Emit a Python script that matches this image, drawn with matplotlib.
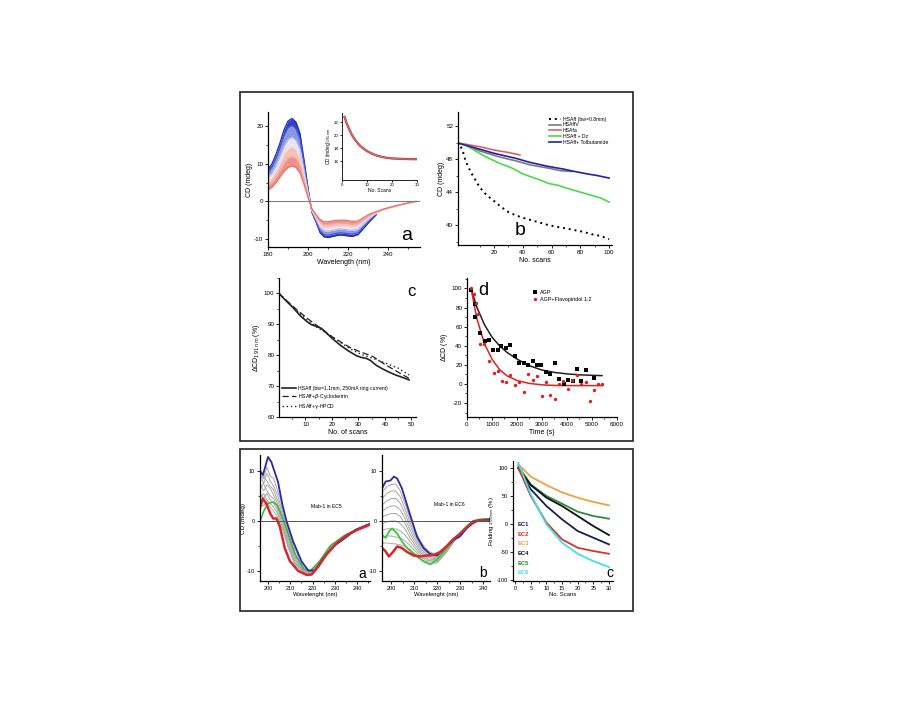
import numpy as np
from matplotlib import pyplot as plt
from matplotlib.patches import Rectangle
from matplotlib.ticker import MultipleLocator, FixedLocator

plt.rcParams['font.family'] = ['Liberation Sans', 'DejaVu Sans']
plt.rcParams['axes.unicode_minus'] = False

# ---------------- top box, panel a: CD spectra, first scan (blue) -> last scan (red)
wl_a = [180, 182, 184, 186, 188, 190, 192, 194, 196, 198, 200, 202, 204, 206, 208,
        210, 213, 216, 219, 222, 225, 228, 231, 234, 238, 242, 246, 250, 254]
nan = np.nan
cd_scan_first = [8.5, 10.0, 12.5, 15.5, 19.0, 21.3, 22.0, 21.0, 18.0, 11.0, 3.5, -3.0, -5.5, -8.3, -9.4,
                 -9.6, -9.2, -8.9, -9.1, -9.3, -8.8, -7.0, -5.2, -3.6, nan, nan, nan, nan, nan]
cd_scan_early = [7.7, 9.1, 11.4, 14.2, 17.4, 19.5, 20.1, 19.2, 16.4, 10.0, 3.1, -2.9, -5.2, -7.8, -8.8,
                 -9.0, -8.6, -8.3, -8.5, -8.7, -8.3, -6.6, -4.9, -3.5, nan, nan, nan, nan, nan]
cd_scan_mid1 = [6.3, 7.5, 9.5, 11.9, 14.6, 16.4, 17.0, 16.2, 13.8, 8.4, 2.5, -2.6, -4.7, -6.9, -7.8,
                -7.9, -7.6, -7.3, -7.5, -7.7, -7.4, -5.9, -4.4, -3.2, nan, nan, nan, nan, nan]
cd_scan_mid2 = [5.2, 6.3, 8.0, 10.1, 12.4, 13.9, 14.4, 13.8, 11.7, 7.1, 2.0, -2.4, -4.3, -6.2, -7.0,
                -7.1, -6.7, -6.6, -6.6, -6.9, -6.6, -5.3, -4.1, -3.1, -2.2, -1.6, -1.0, -0.5, 0.0]
cd_scan_late = [4.1, 5.0, 6.5, 8.3, 10.2, 11.5, 11.9, 11.4, 9.6, 5.8, 1.5, -2.2, -3.9, -5.5, -6.2,
                -6.2, -5.9, -5.8, -5.8, -6.1, -5.9, -4.8, -3.7, -2.9, -2.1, -1.5, -0.95, -0.45, 0.0]
cd_scan_last = [3.0, 3.8, 5.0, 6.5, 8.0, 9.0, 9.4, 9.0, 7.5, 4.5, 1.0, -2.0, -3.5, -4.8, -5.4,
                -5.4, -5.1, -5.0, -5.0, -5.3, -5.2, -4.2, -3.3, -2.7, -2.0, -1.4, -0.9, -0.4, 0.0]

# inset: CD at 191 nm against scan number
inset_scans = [1, 2, 3, 4, 5, 6, 7, 8, 10, 12, 14, 16, 18, 20, 23, 26, 30]
inset_cd191 = [22.8, 21.7, 20.8, 20.0, 19.4, 18.9, 18.45, 18.1, 17.55, 17.15, 16.85, 16.65,
               16.5, 16.42, 16.36, 16.32, 16.3]

# ---------------- panel b: CD against number of scans
b_dotted_x = [-3, -1, 0, 2, 4, 7, 10, 14, 18, 21, 25, 30, 35, 40, 46, 52, 58, 64, 70, 76, 82, 88, 94, 100]
b_dotted_y = [49.5, 48.6, 47.9, 47.1, 46.4, 45.5, 44.6, 43.8, 43.2, 42.8, 42.2, 41.6, 41.2, 40.9,
              40.6, 40.3, 40.0, 39.8, 39.6, 39.4, 39.2, 38.9, 38.7, 38.3]
b_ffv_x = [-4, 0, 10, 23, 30, 35, 45, 58, 66, 74]
b_ffv_y = [49.9, 49.7, 49.0, 48.3, 48.0, 47.8, 47.3, 46.9, 46.6, 46.5]
b_fa_x = [-4, 0, 10, 20, 30, 38]
b_fa_y = [49.9, 49.8, 49.5, 49.1, 48.8, 48.5]
b_dz_x = [-4, 0, 5, 10, 14, 20, 25, 30, 35, 40, 45, 50, 58, 65, 70, 76, 82, 88, 94, 100]
b_dz_y = [49.9, 49.7, 49.2, 48.7, 48.3, 47.8, 47.4, 47.1, 46.7, 46.2, 45.9, 45.6, 45.05, 44.8,
          44.5, 44.2, 43.9, 43.6, 43.3, 42.8]
b_tol_x = [-4, 0, 10, 20, 30, 35, 45, 58, 68, 76, 85, 92, 100]
b_tol_y = [49.9, 49.7, 49.2, 48.7, 48.3, 48.1, 47.6, 47.1, 46.8, 46.5, 46.2, 46.0, 45.7]

# ---------------- panel c: relative CD at 191 nm
c_solid_x = [0, 2, 5.4, 8, 10.4, 12, 14.1, 16, 17.9, 20, 22.9, 26, 29.1, 31, 32.9, 34.5, 36.6,
             39, 41.6, 44, 47, 49.1]
c_solid_y = [100, 98.2, 95.3, 92.8, 91, 90, 89.3, 88.7, 87.2, 85.5, 83.4, 81.5, 79.9, 79.3, 79.0,
             78.3, 76.8, 75.6, 74.5, 73.6, 72.7, 72.0]
c_dash_x = [0, 5, 10.4, 15, 20, 22.9, 27, 31, 35.4, 40, 45, 49.1]
c_dash_y = [100, 96, 92.1, 89.2, 86.0, 84.5, 82.4, 81.0, 79.6, 77.0, 74.5, 72.5]
c_dot_x = [0, 5, 10.4, 15, 20, 22.9, 27, 31, 35.4, 40, 45, 49.1]
c_dot_y = [100, 95.8, 91.5, 88.7, 86.0, 84.3, 82.0, 80.3, 79.0, 77.5, 75.8, 73.6]

# ---------------- panel d: AGP time course
agp_t = [170, 305, 332, 505, 704, 890, 1036, 1222, 1368, 1554, 1726, 1926, 2098, 2284, 2457, 2630,
         2802, 2961, 3147, 3320, 3506, 3679, 3865, 4051, 4223, 4396, 4569, 4741, 5073]
agp_cd = [98, 70, 84, 53.5, 45, 45.5, 36, 36, 39.5, 37.5, 40.3, 28.9, 21.9, 21.9, 19.5, 23.7,
          20.2, 20.2, 12.5, 10.4, 21.9, 5.5, 0.3, 4.5, 3.4, 16, 2.7, 14.3, 6.2]
flavo_t = [159, 266, 359, 425, 531, 664, 863, 1062, 1222, 1394, 1567, 1726, 1926, 2098, 2284, 2457,
           2630, 2802, 2988, 3160, 3333, 3506, 3679, 3852, 4037, 4210, 4383, 4555, 4741, 4914,
           5086, 5259, 5419]
flavo_cd = [101, 94, 85, 72.8, 41.3, 41.3, 23.7, 11.5, 14, 3.4, 2, 9.7, -0.8, 2, -8.5, 10.8, 3.8,
            8.7, -13, 2, -11.2, -15.4, 0, 2.7, -5, 4.5, 9.7, 0, 2, -17.5, -6, 0, 0]
agp_fit_t = [160, 400, 700, 1000, 1300, 1600, 2000, 2500, 3000, 3500, 4000, 4500, 5000, 5400]
agp_fit_cd = [100, 80, 62, 49, 40, 33, 26, 19, 14.5, 12, 10.5, 9.5, 9, 8.7]
flavo_fit_t = [160, 400, 700, 1000, 1300, 1600, 2000, 2500, 3000, 3500, 4000, 4500, 5000, 5420]
flavo_fit_cd = [100, 68, 42, 26, 15, 8.5, 3.5, 0.5, -1, -1.6, -1.8, -1.8, -1.8, -1.8]

# ---------------- bottom box, panel a: Mab-1 in EC5
wl_ec5 = [196.5, 198, 199.5, 201, 202.5, 204, 205.5, 207, 209, 212, 216, 219, 223, 228, 234, 240, 246]
ec5_gray = [
    [10.5, 8.5, 10.8, 9.0, 8.5, 6.5, 4.5, 2.0, -1.5, -5.5, -9.3, -9.9, -8.0, -4.8, -3.0, -1.6, -0.6],
    [9.5, 7.5, 9.5, 8.0, 7.0, 5.5, 3.5, 1.2, -2.2, -6.2, -9.6, -10.0, -8.2, -5.0, -3.0, -1.6, -0.6],
    [8.5, 9.0, 8.0, 7.0, 6.2, 4.5, 2.8, 0.5, -2.8, -6.8, -9.8, -10.1, -8.3, -5.1, -3.1, -1.7, -0.6],
    [7.5, 6.0, 7.2, 6.5, 5.2, 3.8, 2.0, -0.2, -3.4, -7.2, -10.0, -10.2, -8.4, -5.2, -3.1, -1.7, -0.6],
    [6.5, 7.5, 6.0, 5.0, 4.5, 3.0, 1.2, -0.8, -3.9, -7.6, -10.1, -10.3, -8.5, -5.3, -3.2, -1.7, -0.7],
    [5.5, 4.5, 5.5, 4.2, 3.6, 2.4, 0.6, -1.3, -4.4, -8.0, -10.2, -10.4, -8.6, -5.4, -3.2, -1.8, -0.7],
    [4.5, 5.5, 4.2, 3.5, 2.8, 1.8, 0.0, -1.8, -4.9, -8.3, -10.3, -10.5, -8.7, -5.5, -3.3, -1.8, -0.7],
    [3.5, 3.0, 3.8, 2.8, 2.0, 1.0, -0.6, -2.3, -5.3, -8.6, -10.4, -10.6, -8.8, -5.6, -3.3, -1.8, -0.7],
]
ec5_blue_x = [196.5, 197.7, 200, 201.5, 204.5, 206.5, 208.3, 211.3, 215.1, 218.1, 221.1, 224.9,
              230.2, 232.5, 235.5, 239.2, 243.8, 246]
ec5_blue_y = [9.9, 9.2, 12.8, 11.8, 7.8, 3.2, 0, -4.1, -8.1, -9.9, -9.9, -7.4, -4.8, -4.1, -3.1,
              -1.8, -0.9, -0.5]
ec5_red_x = [196.5, 197.7, 199.2, 201, 202.3, 203.8, 205.3, 207.5, 209.8, 213.6, 217.4, 219.6,
             222.6, 226.4, 230.9, 235.5, 240, 246]
ec5_red_y = [2.8, 4.5, 3.5, 1.5, 0.5, 0.5, -1.1, -5.4, -8, -10, -10.8, -10.7, -9.1, -6.6, -4.4,
             -2.8, -1.8, -0.7]
ec5_green_x = [196.5, 198, 200, 202.3, 204.1, 206, 208.3, 212, 216, 219, 223, 228, 234, 240, 246]
ec5_green_y = [0, 1.9, 3.5, 3.8, 3.2, 1.2, -1.5, -6.5, -9.6, -10.0, -8.2, -5.0, -3.0, -1.6, -0.6]

# ---------------- bottom box, panel b: Mab-1 in EC6
wl_ec6 = [196.1, 198, 200, 202, 204, 206, 208, 210, 213, 216, 220, 224, 228, 233, 238, 243]
ec6_gray = [
    [5.8, 6.8, 7.3, 7.4, 6.0, 3.5, 0.8, -1.5, -4.3, -6.0, -6.8, -5.6, -3.6, -1.3, 0.1, 0.3],
    [4.5, 5.5, 6.0, 6.0, 4.8, 2.5, 0.0, -2.2, -4.8, -6.4, -7.0, -5.7, -3.6, -1.3, 0.1, 0.3],
    [3.2, 4.0, 4.5, 4.5, 3.5, 1.5, -0.8, -2.8, -5.2, -6.7, -7.2, -5.8, -3.6, -1.3, 0.1, 0.3],
    [2.0, 2.6, 3.0, 3.0, 2.2, 0.5, -1.6, -3.4, -5.6, -7.0, -7.4, -5.9, -3.6, -1.3, 0.1, 0.3],
    [0.8, 1.2, 1.5, 1.5, 0.9, -0.5, -2.4, -4.0, -6.0, -7.3, -7.6, -6.0, -3.6, -1.3, 0.1, 0.3],
    [-0.5, -0.2, 0.0, 0.0, -0.5, -1.6, -3.2, -4.6, -6.4, -7.6, -7.8, -6.1, -3.6, -1.3, 0.1, 0.3],
    [-1.8, -1.6, -1.5, -1.6, -2.0, -2.8, -4.0, -5.2, -6.8, -7.9, -8.0, -6.2, -3.6, -1.3, 0.1, 0.3],
    [-3.2, -3.0, -3.0, -3.2, -3.4, -4.0, -4.8, -5.8, -7.2, -8.2, -8.2, -6.2, -3.6, -1.3, 0.1, 0.3],
    [-4.4, -4.4, -4.5, -4.6, -4.8, -5.0, -5.6, -6.4, -7.6, -8.5, -8.4, -6.3, -3.6, -1.3, 0.1, 0.3],
]
ec6_blue_x = [196.1, 197.6, 199.7, 201.2, 202.6, 204.7, 206.9, 209.1, 211.2, 214.1, 217, 219.9,
              222.7, 227.1, 229.9, 232.8, 235.7, 238.6, 242.9]
ec6_blue_y = [6.6, 7.9, 8.1, 8.9, 8.5, 6.5, 3.2, 0, -3.1, -5.4, -6.6, -6.9, -5.7, -3.8, -3.1,
              -1.5, -0.3, 0.2, 0.3]
ec6_red_x = [196.1, 197.6, 199, 200.4, 202.6, 204.7, 206.9, 209.8, 212.7, 215.5, 218.4, 221.3,
             224.2, 227.1, 229.9, 232.8, 235.7, 238.6, 242.9]
ec6_red_y = [-5.4, -6.1, -7.1, -6.4, -5.1, -5.4, -6.2, -6.9, -7.1, -6.9, -6.8, -6.2, -5, -3.6,
             -2.6, -1.3, -0.1, 0.2, 0]
ec6_green_x = [196.1, 197.6, 199, 200.4, 202.6, 204.7, 206.9, 209.8, 214.1, 217, 219.9, 224.2,
               228.5, 232.8, 235.7, 240, 242.9]
ec6_green_y = [-2.8, -3.4, -2.1, -1.5, -2.5, -4.1, -5.4, -6.6, -8.1, -8.7, -7.7, -5.4, -3.1,
               -1.1, 0, 0.4, 0.4]

# ---------------- bottom box, panel c: folding against scans per buffer
fold_scans = [1, 5, 10, 15, 20, 25, 30]
fold_ec1 = [100, 62.5, 32.7, 8.9, -11.9, -23.8, -35.7]
fold_ec2 = [101, 50.6, 3, -26.8, -41.7, -47.6, -52.4]
fold_ec3 = [107, 85, 70, 57, 47.5, 40, 34]
fold_ec4 = [100, 70, 47.6, 32.7, 14.9, -3, -19]
fold_ec5 = [104, 71, 50.6, 36.9, 22.6, 14.9, 10.1]
fold_ec6 = [110, 53.6, 0, -32.7, -52.4, -65.5, -76.2]
ec_names = ['EC1', 'EC2', 'EC3', 'EC4', 'EC5', 'EC6']
ec_colors = ['#1c1c5a', '#d93030', '#f0a040', '#111111', '#2e8b3e', '#40e0e8']


def px_axes(fig, x0, y0, x1, y1):
    # axes rectangle from pixel corners of the 900x704 picture
    return fig.add_axes([x0 / 900, 1 - y1 / 704, (x1 - x0) / 900, (y1 - y0) / 704])


def origin_style(ax, fs=4.5):
    for side in ['top', 'right']:
        ax.spines[side].set_visible(False)
    for side in ['left', 'bottom']:
        ax.spines[side].set_linewidth(0.9)
    ax.tick_params(which='major', direction='out', length=2.2, width=0.6, labelsize=fs, pad=1.2)
    ax.tick_params(which='minor', direction='out', length=1.2, width=0.5)


fig = plt.figure(figsize=(9, 7.04), dpi=100)

# frames round the two figure blocks
fig.add_artist(Rectangle((240 / 900, 1 - 441 / 704), 393 / 900, 349 / 704, transform=fig.transFigure,
                         fill=False, lw=1.2, ec='#222222'))
fig.add_artist(Rectangle((240 / 900, 1 - 611 / 704), 393 / 900, 162 / 704, transform=fig.transFigure,
                         fill=False, lw=1.2, ec='#222222'))

# ---- panel a
ax = px_axes(fig, 268, 112, 420, 247)
spectra = [cd_scan_first, cd_scan_early, cd_scan_mid1, cd_scan_mid2, cd_scan_late, cd_scan_last]
line_colors = ['#1f2fb8', '#4a5ad8', '#b4bcee', '#f6d6d4', '#f0aaa6', '#e8706a']
band_colors = ['#3343c8', '#8a98e4', '#ebe6f2', '#f4c0bc', '#ee928c']
for i in range(len(spectra) - 1):
    ax.fill_between(wl_a, spectra[i], spectra[i + 1], color=band_colors[i], lw=0)
for spec, col in zip(spectra, line_colors):
    ax.plot(wl_a, spec, color=col, lw=0.9)
ax.axhline(0, color='#808080', lw=0.8)
ax.set_xlim(180, 256)
ax.set_ylim(-12.1, 23.7)
ax.xaxis.set_major_locator(MultipleLocator(20))
ax.xaxis.set_minor_locator(MultipleLocator(10))
ax.yaxis.set_major_locator(MultipleLocator(10))
ax.yaxis.set_minor_locator(MultipleLocator(5))
origin_style(ax)
ax.set_xlabel('Wavelength (nm)', fontsize=5, labelpad=1.5)
ax.set_ylabel('CD (mdeg)', fontsize=5, labelpad=1)
ax.text(249.5, -9.1, 'a', fontsize=14, ha='center', va='center')

# inset of panel a
axi = px_axes(fig, 342, 113, 417, 180)
axi.plot(inset_scans, inset_cd191, color='#8a3030', lw=1.6)
axi.plot(inset_scans, inset_cd191, color='#e86c6c', lw=0.9)
axi.set_xlim(0, 30)
axi.set_ylim(13.1, 23.4)
axi.set_xticks([0, 10, 20, 30])
axi.set_yticks([16, 18, 20, 22])
origin_style(axi, fs=3.2)
for side in ['left', 'bottom']:
    axi.spines[side].set_linewidth(0.6)
axi.tick_params(which='major', length=1.5, pad=0.8)
axi.set_xlabel('No. Scans', fontsize=3.6, labelpad=0.8)
axi.set_ylabel(r'CD (mdeg)$_{191\ nm}$', fontsize=3.4, labelpad=0.8)

# ---- panel b
ax = px_axes(fig, 458, 112, 612, 245)
ax.plot(b_dotted_x, b_dotted_y, color='black', lw=1.4, linestyle=(0, (1, 2)), label='HSAff (bw=0.8mm)')
ax.plot(b_ffv_x, b_ffv_y, color='#7a7a7a', lw=1.2, label='HSAffV')
ax.plot(b_fa_x, b_fa_y, color='#e06060', lw=1.2, label='HSAfa')
ax.plot(b_dz_x, b_dz_y, color='#4cd94c', lw=1.2, label='HSAff + Dz')
ax.plot(b_tol_x, b_tol_y, color='#2020b0', lw=1.2, label='HSAff+ Tolbutamide')
ax.set_xlim(-5, 102)
ax.set_ylim(37.6, 53.7)
ax.xaxis.set_major_locator(FixedLocator([20, 40, 60, 80, 100]))
ax.xaxis.set_minor_locator(FixedLocator([10, 30, 50, 70, 90]))
ax.yaxis.set_major_locator(MultipleLocator(4))
ax.yaxis.set_minor_locator(MultipleLocator(2))
origin_style(ax)
ax.set_xlabel('No. scans', fontsize=5, labelpad=1.5)
ax.set_ylabel('CD (mdeg)', fontsize=5, labelpad=1)
ax.legend(loc='upper right', bbox_to_anchor=(0.99, 0.98), fontsize=3.7, frameon=False,
          handlelength=2.4, labelspacing=0.15, handletextpad=0.4, borderaxespad=0)
ax.text(38, 39.4, 'b', fontsize=14, ha='center', va='center')

# ---- panel c
ax = px_axes(fig, 279, 278, 416, 417)
ax.plot(c_solid_x, c_solid_y, color='#222222', lw=1.2, label='HSAff (bw=1.1mm, 250mA ring current)')
ax.plot(c_dash_x, c_dash_y, color='#222222', lw=0.9, linestyle=(0, (5, 2.5)), label=r'HSAff+$\beta$-Cyclodextrin')
ax.plot(c_dot_x, c_dot_y, color='#222222', lw=1.0, linestyle=(0, (1, 2)), label=r'HSAff+$\gamma$-HPCD')
ax.set_xlim(0, 51.7)
ax.set_ylim(60, 105)
ax.xaxis.set_major_locator(FixedLocator([10, 20, 30, 40, 50]))
ax.xaxis.set_minor_locator(FixedLocator([5, 15, 25, 35, 45]))
ax.yaxis.set_major_locator(MultipleLocator(10))
ax.yaxis.set_minor_locator(MultipleLocator(5))
origin_style(ax)
ax.set_xlabel('No. of scans', fontsize=5, labelpad=1.5)
ax.set_ylabel(r'$\Delta$CD$_{191\ nm}$ (%)', fontsize=5, labelpad=1)
ax.legend(loc='lower left', bbox_to_anchor=(0.01, 0.03), fontsize=3.7, frameon=False,
          handlelength=2.6, labelspacing=0.15, handletextpad=0.4, borderaxespad=0)
ax.text(50, 100.5, 'c', fontsize=12, ha='center', va='center')

# ---- panel d
ax = px_axes(fig, 467, 278, 617, 417)
ax.scatter(agp_t, agp_cd, s=5, marker='s', color='black', lw=0, label='AGP', zorder=3)
ax.scatter(flavo_t, flavo_cd, s=6, marker='o', color='#e02020', lw=0, label='AGP+Flavopiridol 1:2', zorder=3)
ax.plot(agp_fit_t, agp_fit_cd, color='#222222', lw=1.1)
ax.plot(flavo_fit_t, flavo_fit_cd, color='#e02020', lw=1.1)
ax.set_xlim(0, 6000)
ax.set_ylim(-34.7, 111)
ax.xaxis.set_major_locator(MultipleLocator(1000))
ax.xaxis.set_minor_locator(MultipleLocator(500))
ax.yaxis.set_major_locator(MultipleLocator(20))
ax.yaxis.set_minor_locator(MultipleLocator(10))
origin_style(ax)
ax.set_xlabel('Time (s)', fontsize=5, labelpad=1.5)
ax.set_ylabel(r'$\Delta$CD (%)', fontsize=5, labelpad=1)
ax.legend(loc='upper left', bbox_to_anchor=(0.42, 0.93), fontsize=3.9, frameon=False,
          handlelength=1.0, labelspacing=0.3, handletextpad=0.4, borderaxespad=0, scatterpoints=1)
ax.text(650, 98, 'd', fontsize=13, ha='center', va='center')

# ---- bottom panel a
ax = px_axes(fig, 260, 455, 370, 581)
for g in ec5_gray:
    ax.plot(wl_ec5, g, color='#a8a8a8', lw=0.7)
ax.plot(ec5_green_x, ec5_green_y, color='#3cb83c', lw=1.1)
ax.plot(ec5_blue_x, ec5_blue_y, color='#2a2aa8', lw=1.3)
ax.plot(ec5_red_x, ec5_red_y, color='#d42a2a', lw=1.8)
ax.axhline(0, color='#555555', lw=0.7)
ax.set_xlim(196.4, 245.8)
ax.set_ylim(-12, 13.2)
ax.xaxis.set_major_locator(MultipleLocator(10))
ax.xaxis.set_minor_locator(MultipleLocator(5))
ax.yaxis.set_major_locator(MultipleLocator(10))
ax.yaxis.set_minor_locator(MultipleLocator(5))
origin_style(ax, fs=4)
ax.set_xlabel('Wavelenght (nm)', fontsize=4.2, labelpad=1)
ax.set_ylabel('CD (mdeg)', fontsize=4.6, labelpad=0.5)
ax.text(226, 2.8, 'Mab-1 in EC5', fontsize=3.6, ha='center', va='center')
ax.text(242.5, -10.6, 'a', fontsize=10, ha='center', va='center')

# ---- bottom panel b
ax = px_axes(fig, 382, 455, 490, 581)
for g in ec6_gray:
    ax.plot(wl_ec6, g, color='#a8a8a8', lw=0.7)
ax.plot(ec6_green_x, ec6_green_y, color='#3cc83c', lw=1.3)
ax.plot(ec6_blue_x, ec6_blue_y, color='#2a2aa8', lw=1.3)
ax.plot(ec6_red_x, ec6_red_y, color='#d42a2a', lw=1.8)
ax.axhline(0, color='#555555', lw=0.7)
ax.set_xlim(196, 243)
ax.set_ylim(-12, 13.2)
ax.xaxis.set_major_locator(MultipleLocator(10))
ax.xaxis.set_minor_locator(MultipleLocator(5))
ax.yaxis.set_major_locator(MultipleLocator(10))
ax.yaxis.set_minor_locator(MultipleLocator(5))
origin_style(ax, fs=4)
ax.set_xlabel('Wavelenght (nm)', fontsize=4.2, labelpad=1)
ax.text(225.5, 3.2, 'Mab-1 in EC6', fontsize=3.6, ha='center', va='center')
ax.text(239.8, -10.4, 'b', fontsize=10, ha='center', va='center')

# ---- bottom panel c
ax = px_axes(fig, 513, 461, 613, 581)
fold_curves = [fold_ec1, fold_ec2, fold_ec3, fold_ec4, fold_ec5, fold_ec6]
draw_order = [2, 4, 3, 0, 1, 5]
for i in draw_order:
    ax.plot(fold_scans, fold_curves[i], color=ec_colors[i], lw=1.3)
for i, (name, col) in enumerate(zip(ec_names, ec_colors)):
    ax.text(0.8, -1 - 17 * i, name, color=col, fontsize=4.2, fontweight='bold', va='center')
ax.set_xlim(-0.7, 31.3)
ax.set_ylim(-101, 113)
ax.xaxis.set_major_locator(MultipleLocator(5))
ax.xaxis.set_minor_locator(MultipleLocator(2.5))
ax.yaxis.set_major_locator(MultipleLocator(50))
ax.yaxis.set_minor_locator(MultipleLocator(25))
origin_style(ax, fs=4)
ax.set_xlabel('No. Scans', fontsize=4.2, labelpad=1)
ax.set_ylabel(r'Folding $_{200nm}$ (%)', fontsize=4.4, labelpad=0.5)
ax.text(30.3, -87, 'c', fontsize=10, ha='center', va='center')

fig.savefig('out.png', dpi=100)
